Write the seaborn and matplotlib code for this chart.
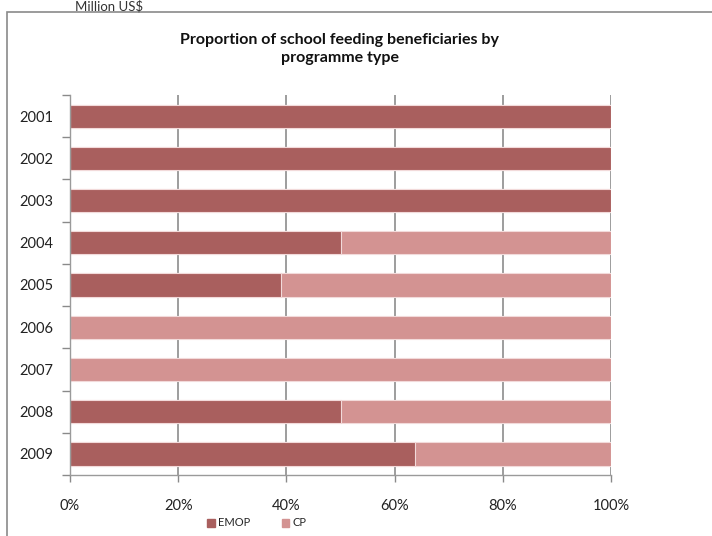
import matplotlib
matplotlib.use("Agg")
import matplotlib.pyplot as plt
import matplotlib.patches as mpatches
from matplotlib.ticker import FixedLocator
import seaborn as sns
import pandas as pd

years = ["2001", "2002", "2003", "2004", "2005", "2006", "2007", "2008", "2009"]
emop = [100, 100, 100, 50, 39, 0, 0, 50, 63.7]
cp = [0, 0, 0, 50, 61, 100, 100, 50, 36.3]
xticks = [0, 20, 40, 60, 80, 100]
xticklabels = ["0%", "20%", "40%", "60%", "80%", "100%"]

EMOP_C = "#A95F5E"
CP_C = "#D39392"

sns.set_theme(style="white")
plt.rcParams["font.family"] = ["Lato", "DejaVu Sans"]

df = pd.DataFrame({"year": years, "EMOP": emop, "CP": cp})
df["total"] = df["EMOP"] + df["CP"]

fig = plt.figure(figsize=(7.12, 5.36), dpi=100)
ax = fig.add_axes([70 / 712, 1 - 475 / 536, (611 - 70) / 712, (475 - 95) / 536])

# outer chart frame (bottom/right run off the picture as in the reference)
fig.patches.append(mpatches.Rectangle((7 / 712, -0.05), (730 - 7) / 712, 1.05 - 12 / 536,
                                      transform=fig.transFigure, fill=False,
                                      edgecolor="#8a8a8a", linewidth=1.2))

sns.barplot(data=df, y="year", x="total", orient="h", color=CP_C, width=0.55,
            edgecolor="#f2dada", linewidth=0.8, ax=ax, saturation=1)
sns.barplot(data=df, y="year", x="EMOP", orient="h", color=EMOP_C, width=0.55,
            edgecolor="#f2dada", linewidth=0.8, ax=ax, saturation=1)

ax.set_xlim(0, 100)
ax.set_ylim(8.5, -0.5)
ax.set_xlabel("")
ax.set_ylabel("")
ax.set_xticks(xticks)
ax.set_xticklabels(xticklabels, fontsize=10.5, color="#222222")
ax.tick_params(axis="x", length=5, width=1, color="#8a8a8a", pad=12, bottom=True)
ax.tick_params(axis="y", which="major", length=0, pad=12, labelsize=10.5, labelcolor="#222222")
ax.yaxis.set_minor_locator(FixedLocator([i - 0.5 for i in range(len(years) + 1)]))
ax.tick_params(axis="y", which="minor", length=6, width=1, color="#8a8a8a", left=True)

ax.set_axisbelow(True)
ax.grid(axis="x", color="#8c8c8c", linewidth=1.2)
ax.grid(axis="y", visible=False)
for s in ["top", "right"]:
    ax.spines[s].set_visible(False)
for s in ["left", "bottom"]:
    ax.spines[s].set_color("#9a9a9a")
    ax.spines[s].set_linewidth(1)

fig.text(340 / 712, 1 - 49 / 536,
         "Proportion of school feeding beneficiaries by\nprogramme type",
         ha="center", va="center", fontsize=11.5, fontweight="bold", color="#111111",
         linespacing=1.45)
fig.text(75 / 712, 1 - 0.5 / 536, "Million US$", ha="left", va="top",
         fontsize=9.5, color="#333333")

handles = [mpatches.Patch(color=EMOP_C, label="EMOP"), mpatches.Patch(color=CP_C, label="CP")]
fig.legend(handles=handles, loc="center", bbox_to_anchor=(257 / 712, 1 - 523 / 536),
           ncol=2, frameon=False, fontsize=8, handlelength=0.7, handleheight=0.7,
           handletextpad=0.3, columnspacing=2.8)

fig.savefig("out.png", dpi=100)
